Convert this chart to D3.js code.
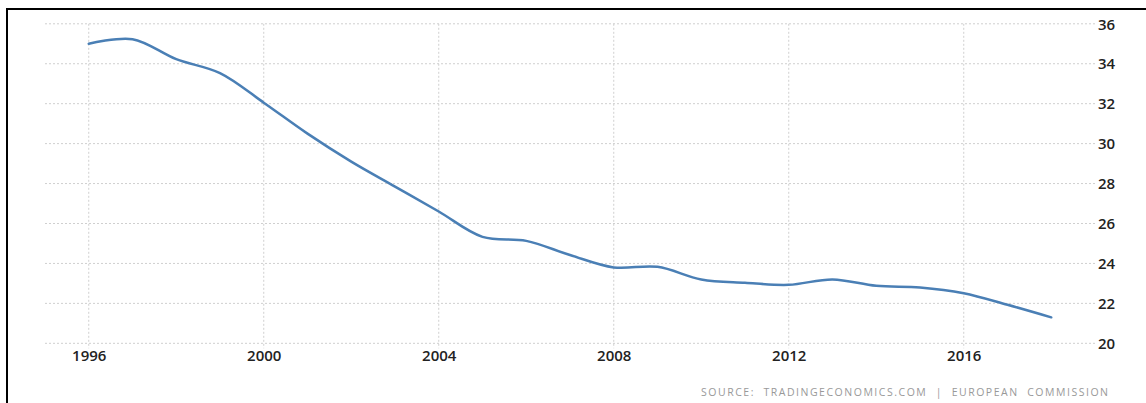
<!DOCTYPE html>
<html>
<head>
<meta charset="utf-8">
<script src="https://cdn.jsdelivr.net/npm/d3@7"></script>
<style>
  html, body { margin: 0; padding: 0; background: #fff; }
  svg { display: block; }
</style>
</head>
<body>
<svg id="chart" width="1146" height="403"></svg>
<script>
const years = [1996,1997,1998,1999,2000,2001,2002,2003,2004,2005,2006,2007,2008,2009,2010,2011,2012,2013,2014,2015,2016,2017,2018];
const values = [35.0,35.23,34.23,33.53,32.05,30.5,29.1,27.85,26.6,25.33,25.13,24.42,23.8,23.83,23.2,23.03,22.93,23.2,22.88,22.8,22.51,21.93,21.3];
const xTickYears = [1996,2000,2004,2008,2012,2016];
const yTickValues = [20,22,24,26,28,30,32,34,36];
const sourceText = "SOURCE:  TRADINGECONOMICS.COM  |  EUROPEAN  COMMISSION";

const svg = d3.select("#chart");
const x = d3.scaleLinear().domain([1995, 2019]).range([45, 1095]);
const y = d3.scaleLinear().domain([20, 36]).range([343.3, 23.8]);

// frame border (top + left)
svg.append("path")
  .attr("d", "M7,403 L7,9 L1146,9")
  .attr("fill", "none").attr("stroke", "#000").attr("stroke-width", 2);

// horizontal grid
svg.append("g").selectAll("line").data(yTickValues).join("line")
  .attr("x1", x(1995)).attr("x2", x(2019))
  .attr("y1", d => y(d)).attr("y2", d => y(d))
  .attr("stroke", "#cfcfcf").attr("stroke-width", 1)
  .attr("stroke-dasharray", "2,2");

// vertical grid
svg.append("g").selectAll("line").data(xTickYears).join("line")
  .attr("x1", d => x(d)).attr("x2", d => x(d))
  .attr("y1", y(36)).attr("y2", y(20) + 5)
  .attr("stroke", "#cfcfcf").attr("stroke-width", 1)
  .attr("stroke-dasharray", "2,2");

// y axis labels (right)
const yAxis = d3.axisRight(y).tickValues(yTickValues).tickSize(0).tickPadding(0);
const gy = svg.append("g").attr("transform", `translate(1098,0)`).call(yAxis);
gy.select(".domain").remove();
gy.selectAll("text")
  .attr("font-family", "'Open Sans', sans-serif")
  .attr("font-size", 15).attr("font-weight", 600).attr("fill", "#222").attr("dy", "0.35em");

// x axis labels
const xAxis = d3.axisBottom(x).tickValues(xTickYears).tickFormat(d3.format("d")).tickSize(0).tickPadding(0);
const gx = svg.append("g").attr("transform", `translate(0,350)`).call(xAxis);
gx.select(".domain").remove();
gx.selectAll("text")
  .attr("font-family", "'Open Sans', sans-serif")
  .attr("font-size", 15).attr("font-weight", 600).attr("fill", "#222").attr("dy", "0.71em");

// line
const line = d3.line().x((d, i) => x(years[i])).y(d => y(d)).curve(d3.curveCatmullRom.alpha(0.5));
svg.append("path").datum(values)
  .attr("d", line)
  .attr("fill", "none").attr("stroke", "#4a7fb5").attr("stroke-width", 2.5)
  .attr("stroke-linejoin", "round").attr("stroke-linecap", "round");

// source
svg.append("text")
  .attr("x", 701).attr("y", 396)
  .attr("font-family", "'Open Sans', sans-serif")
  .attr("font-size", 10.5).attr("fill", "#999")
  .attr("textLength", 407).attr("lengthAdjust", "spacing")
  .style("white-space", "pre")
  .text(sourceText);
</script>
</body>
</html>
